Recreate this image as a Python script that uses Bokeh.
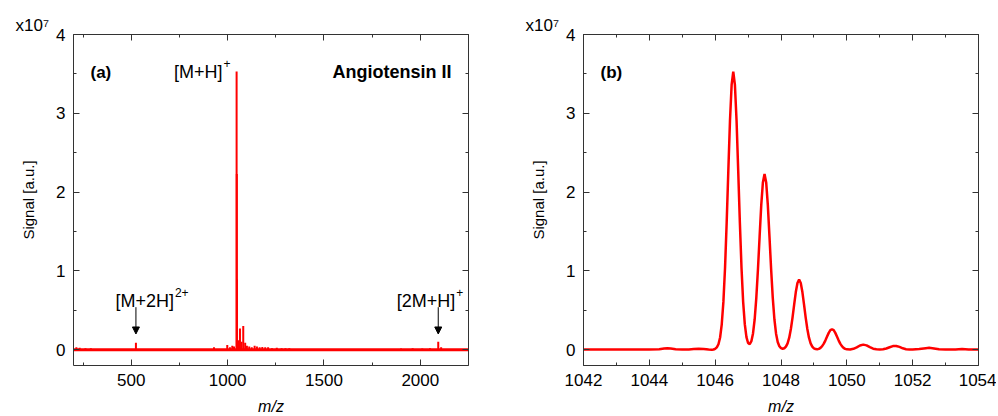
from bokeh.plotting import figure
from bokeh.layouts import row
from bokeh.models import (Range1d, SingleIntervalTicker, LinearAxis, Label, Arrow,
                          NormalHead, ColumnDataSource)
from bokeh.embed import file_html
from bokeh.resources import INLINE

FONT = "Liberation Sans"
RED = "#ff0000"
FRAME = "#333333"

# ---------------- panel (a): full spectrum (signal in units of 1e7) ----------------
a_mz = [215, 232, 262, 290, 524, 929, 998, 1012, 1024, 1033, 1046.5, 1047.5, 1048.5,
        1057, 1064, 1072, 1081, 1091, 1100, 1112, 1125, 1140, 1152, 1166, 1180, 1195,
        1210, 1230, 1255, 1280, 1300, 1320, 1900, 1960, 2010, 2050, 2093, 2108]
a_signal = [0.03, 0.025, 0.02, 0.02, 0.09, 0.03, 0.06, 0.03, 0.05, 0.04, 3.53, 2.23, 0.89,
            0.12, 0.27, 0.10, 0.30, 0.09, 0.05, 0.04, 0.03, 0.05, 0.04, 0.03, 0.035, 0.03,
            0.03, 0.02, 0.025, 0.02, 0.02, 0.02, 0.015, 0.02, 0.015, 0.02, 0.10, 0.03]
baseline_mz = [200, 2250]
baseline_signal = [0, 0]

arrow_mz = [524, 2093]
arrow_top = [0.54, 0.54]
arrow_tip = [0.2, 0.2]

ion_names = ["[M+2H]", "[M+H]", "[2M+H]"]
ion_charges = ["2+", "+", "+"]
ion_mz = [524, 1046.5, 2093]
ion_y = [0.62, 3.53, 0.62]

# ---------------- panel (b): isotope pattern of [M+H]+ ----------------
b_mz = [1042.0, 1042.5, 1043.0, 1043.5, 1044.0, 1044.3, 1044.45, 1044.55, 1044.65, 1044.8,
        1045.0, 1045.2, 1045.35, 1045.5, 1045.65, 1045.8, 1045.9, 1045.95,
        1046.0, 1046.05, 1046.1, 1046.15, 1046.2, 1046.25, 1046.3, 1046.35, 1046.4, 1046.45,
        1046.5, 1046.55, 1046.6, 1046.65, 1046.7, 1046.75, 1046.8, 1046.85, 1046.9, 1046.95,
        1047.0, 1047.05, 1047.1, 1047.15, 1047.2, 1047.25, 1047.3, 1047.35, 1047.4, 1047.45,
        1047.5, 1047.55, 1047.6, 1047.65, 1047.7, 1047.75, 1047.8, 1047.85, 1047.9, 1047.95,
        1048.0, 1048.05, 1048.1, 1048.15, 1048.2, 1048.25, 1048.3, 1048.35, 1048.4, 1048.45,
        1048.5, 1048.55, 1048.6, 1048.65, 1048.7, 1048.75, 1048.8, 1048.85, 1048.9, 1048.95,
        1049.0, 1049.05, 1049.1, 1049.15, 1049.2, 1049.25, 1049.3, 1049.35, 1049.4, 1049.45,
        1049.5, 1049.55, 1049.6, 1049.65, 1049.7, 1049.75, 1049.8, 1049.85, 1049.9, 1049.95,
        1050.0, 1050.1, 1050.2, 1050.3, 1050.4, 1050.5, 1050.6, 1050.7, 1050.8, 1050.9,
        1051.0, 1051.1, 1051.2, 1051.3, 1051.4, 1051.5, 1051.6, 1051.7, 1051.8, 1051.9,
        1052.0, 1052.2, 1052.4, 1052.5, 1052.6, 1052.8, 1053.0, 1053.3, 1053.5, 1053.7, 1054.0]
b_signal = [0.003, 0.002, 0.003, 0.002, 0.003, 0.006, 0.015, 0.02, 0.015, 0.006,
            0.003, 0.004, 0.009, 0.013, 0.009, 0.002, 0.0, 0.003,
            0.012, 0.03, 0.07, 0.155, 0.323, 0.607, 1.041, 1.617, 2.273, 2.905,
            3.36, 3.53, 3.36, 2.905, 2.273, 1.617, 1.041, 0.608, 0.325, 0.161,
            0.085, 0.07, 0.108, 0.207, 0.384, 0.658, 1.021, 1.436, 1.835, 2.123,
            2.23, 2.123, 1.835, 1.436, 1.021, 0.658, 0.384, 0.204, 0.098, 0.044,
            0.02, 0.013, 0.019, 0.039, 0.081, 0.153, 0.263, 0.408, 0.573, 0.732,
            0.847, 0.89, 0.847, 0.732, 0.573, 0.408, 0.263, 0.153, 0.081, 0.039,
            0.018, 0.009, 0.007, 0.011, 0.024, 0.045, 0.077, 0.119, 0.167, 0.214,
            0.248, 0.26, 0.248, 0.214, 0.167, 0.119, 0.077, 0.045, 0.024, 0.011,
            0.005, 0.004, 0.012, 0.03, 0.054, 0.065, 0.055, 0.032, 0.013, 0.005,
            0.003, 0.006, 0.016, 0.032, 0.046, 0.048, 0.036, 0.018, 0.007, 0.003,
            0.002, 0.008, 0.02, 0.024, 0.02, 0.006, 0.002, 0.004, 0.008, 0.003, 0.002]

y_ticks_interval = 1
a_x_interval = 500
b_x_interval = 2
scale_text = "x10\u2077"


def style_axis(ax, labels=True):
    ax.axis_line_color = FRAME
    ax.axis_line_width = 1
    ax.major_tick_line_color = FRAME
    ax.minor_tick_line_color = FRAME
    ax.major_tick_in = 6
    ax.major_tick_out = 0
    ax.minor_tick_in = 3
    ax.minor_tick_out = 0
    ax.major_label_text_font = FONT
    if labels:
        ax.major_label_text_color = "black"
        ax.major_label_text_font_size = "17px"
        ax.major_label_standoff = 8
    else:
        ax.major_label_text_color = None
        ax.major_label_text_font_size = "1px"
        ax.major_label_standoff = 0


def make_panel(xr, x_interval, left_border, right_border):
    p = figure(frame_width=395, frame_height=331, x_range=Range1d(*xr),
               y_range=Range1d(-0.2, 4.0), output_backend="svg", toolbar_location=None,
               min_border_left=left_border, min_border_right=right_border,
               min_border_top=34, min_border_bottom=49)
    p.xgrid.visible = False
    p.ygrid.visible = False
    p.outline_line_color = None
    p.background_fill_color = "white"
    p.border_fill_color = "white"
    p.xaxis.ticker = SingleIntervalTicker(interval=x_interval, num_minor_ticks=2)
    p.yaxis.ticker = SingleIntervalTicker(interval=y_ticks_interval, num_minor_ticks=2)
    style_axis(p.xaxis[0])
    style_axis(p.yaxis[0])
    p.xaxis.axis_label = "m/z"
    p.xaxis.axis_label_text_font = FONT
    p.xaxis.axis_label_text_font_size = "16px"
    p.xaxis.axis_label_text_font_style = "italic"
    p.xaxis.axis_label_text_color = "black"
    p.xaxis.axis_label_standoff = 9
    p.yaxis.axis_label = "Signal [a.u.]"
    p.yaxis.axis_label_text_font = FONT
    p.yaxis.axis_label_text_font_size = "15px"
    p.yaxis.axis_label_text_font_style = "normal"
    p.yaxis.axis_label_text_color = "black"
    p.yaxis.axis_label_standoff = 16
    top = LinearAxis(ticker=SingleIntervalTicker(interval=x_interval, num_minor_ticks=2))
    style_axis(top, labels=False)
    p.add_layout(top, "above")
    right = LinearAxis(ticker=SingleIntervalTicker(interval=y_ticks_interval, num_minor_ticks=2))
    style_axis(right, labels=False)
    p.add_layout(right, "right")
    # scale factor (x10^7) as the plot title, shifted left of the frame
    p.title.text = scale_text
    p.title.align = "left"
    p.title.offset = -58
    p.title.standoff = 0
    p.title.text_font = FONT
    p.title.text_font_size = "17px"
    p.title.text_font_style = "normal"
    p.title.text_color = "black"
    return p


def add_label(p, x, y, text, dx, dy, size, align="left", bold=False):
    p.add_layout(Label(x=x, y=y, x_offset=dx, y_offset=dy, text=text,
                       text_align=align, text_baseline="alphabetic",
                       text_font=FONT, text_font_size=f"{size}px",
                       text_font_style="bold" if bold else "normal",
                       text_color="black"))


# ---------- panel (a) ----------
pa = make_panel((200, 2250), a_x_interval, 73, 30)
pa.line(baseline_mz, baseline_signal, line_color=RED, line_width=3)
pa.segment(x0=a_mz, y0=[0] * len(a_mz), x1=a_mz, y1=a_signal, line_color=RED, line_width=2)

arr_src = ColumnDataSource(dict(x=arrow_mz, y0=arrow_top, y1=arrow_tip))
pa.add_layout(Arrow(x_start="x", y_start="y0", x_end="x", y_end="y1", source=arr_src,
                    line_color="black", line_width=1,
                    end=NormalHead(size=7, fill_color="black", line_color="black")))

# ion labels: base text right-aligned, charge superscript left-aligned
ion_dx = [38, -14, 17]
for name, charge, mz, yy, dx in zip(ion_names, ion_charges, ion_mz, ion_y, ion_dx):
    add_label(pa, mz, yy, name, dx, 0, 18, align="right")
    add_label(pa, mz, yy, charge, dx + 1, 8, 12, align="left")

add_label(pa, 200, 4.0, "(a)", 17, -38, 17, bold=True)
add_label(pa, 2250, 4.0, "Angiotensin II", -17, -37.5, 18, align="right", bold=True)

# ---------- panel (b) ----------
pb = make_panel((1042, 1054), b_x_interval, 85, 18)
pb.line(b_mz, b_signal, line_color=RED, line_width=2.5)
add_label(pb, 1042, 4.0, "(b)", 17, -38, 17, bold=True)

layout = row(pa, pb)
open("out.html", "w").write(file_html(layout, INLINE))
